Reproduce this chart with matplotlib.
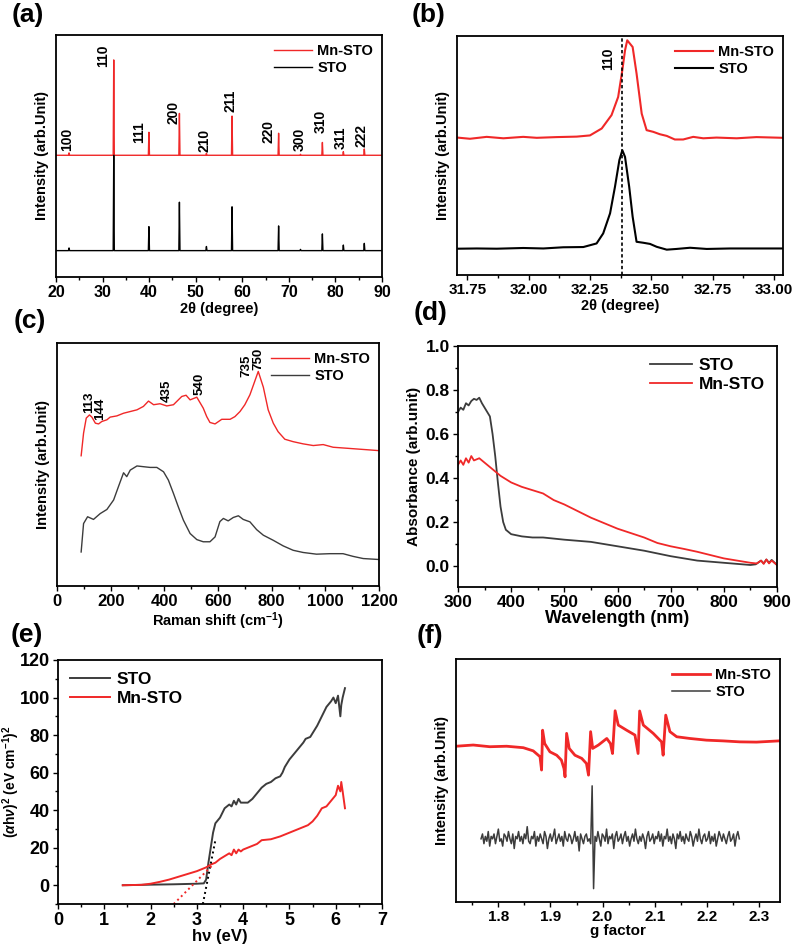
import numpy as np
import matplotlib
matplotlib.use("Agg")
import matplotlib.pyplot as plt
from matplotlib.ticker import MultipleLocator, FormatStrFormatter

plt.rcParams['font.family'] = ['Liberation Sans', 'DejaVu Sans']
plt.rcParams['font.weight'] = 'bold'
plt.rcParams['mathtext.fontset'] = 'custom'
plt.rcParams['mathtext.rm'] = 'Liberation Sans'
plt.rcParams['mathtext.it'] = 'Liberation Sans:italic'
plt.rcParams['mathtext.bf'] = 'Liberation Sans:bold'

RED = '#f02828'
GRAY = '#3c3c3c'

# ---------------- (a) XRD, full range ----------------
xrd_hkl = ['100', '110', '111', '200', '210', '211', '220', '300', '310', '311', '222']
xrd_pos = [22.8, 32.4, 39.95, 46.5, 52.3, 57.8, 67.8, 72.5, 77.2, 81.7, 86.2]
xrd_mn_base = 50.3
xrd_mn_h = [1.0, 39.4, 9.5, 17.3, 0.8, 16.2, 9.1, 0.4, 5.3, 1.5, 2.6]
xrd_sto_base = 10.9
xrd_sto_h = [1.1, 39.4, 9.9, 20.0, 1.7, 18.1, 10.2, 0.5, 6.9, 2.3, 3.0]
xrd_lbl_x = [22.3, 30.2, 37.9, 45.2, 51.8, 57.4, 65.6, 72.4, 76.9, 81.1, 85.6]
xrd_lbl_y = [52.2, 86.9, 55.2, 63.2, 51.8, 68.3, 55.5, 52.2, 59.4, 52.8, 53.9]

# ---------------- (b) XRD zoom on (110) ----------------
b_mn_x = [31.709, 31.761, 31.829, 31.897, 31.978, 32.033, 32.114, 32.196, 32.250, 32.298,
          32.338, 32.365, 32.382, 32.393, 32.402, 32.413, 32.424, 32.440, 32.461, 32.481,
          32.508, 32.535, 32.563, 32.596, 32.630, 32.671, 32.712, 32.766, 32.848, 32.929, 33.038]
b_mn_y = [57.5, 57.0, 57.8, 57.2, 57.8, 57.4, 57.7, 57.9, 58.4, 61.3,
          66.9, 74.5, 85.7, 94.0, 98.2, 96.8, 95.4, 84.3, 67.5, 60.6,
          59.9, 58.9, 58.2, 56.7, 56.7, 57.8, 57.2, 57.5, 57.2, 57.7, 57.4]
b_sto_x = [31.709, 31.789, 31.870, 31.978, 32.060, 32.141, 32.223, 32.277, 32.304, 32.332,
           32.352, 32.370, 32.382, 32.393, 32.410, 32.424, 32.440, 32.467, 32.495, 32.522,
           32.563, 32.603, 32.658, 32.726, 32.821, 32.929, 33.038]
b_sto_y = [11.0, 11.1, 11.0, 11.3, 11.1, 11.6, 11.7, 13.2, 17.4, 25.8,
           36.9, 48.1, 52.2, 49.4, 36.9, 24.4, 13.9, 13.5, 13.0, 11.8,
           10.6, 10.9, 11.4, 10.9, 11.1, 11.1, 11.1]
b_peak = 32.382

# ---------------- (c) Raman ----------------
c_mn_x = [90, 99, 109, 121, 130, 143, 155, 167, 186, 198, 223, 248, 273, 298, 322, 341,
          360, 384, 409, 434, 465, 481, 496, 521, 545, 558, 570, 589, 614, 645, 663, 682,
          700, 719, 731, 750, 769, 787, 806, 824, 849, 880, 917, 955, 992, 1029, 1079,
          1128, 1165, 1200]
c_mn_y = [53.6, 62.9, 69.1, 70.4, 69.5, 67.0, 66.7, 67.7, 68.4, 69.5, 70.0, 71.1, 71.8,
          72.5, 73.9, 76.1, 74.6, 75.0, 74.1, 74.6, 78.0, 78.5, 76.6, 77.7, 73.2, 69.7,
          67.3, 66.7, 68.6, 68.6, 69.7, 71.8, 74.6, 78.7, 82.4, 88.3, 81.8, 72.5, 67.0,
          63.5, 60.4, 59.4, 58.5, 57.8, 58.2, 57.1, 56.7, 56.3, 56.0, 55.7]
c_sto_x = [90, 99, 114, 136, 161, 186, 211, 229, 248, 260, 273, 298, 322, 347, 372, 397,
           415, 434, 452, 471, 496, 521, 545, 570, 589, 607, 620, 638, 657, 676, 694, 719,
           744, 769, 806, 843, 880, 917, 967, 1017, 1066, 1103, 1141, 1200]
c_sto_y = [14.0, 25.7, 28.5, 27.4, 29.8, 31.5, 35.4, 40.9, 46.6, 45.0, 47.7, 49.4, 49.1,
           48.8, 48.8, 47.0, 43.6, 38.1, 32.6, 27.1, 21.6, 19.1, 18.2, 18.2, 20.2, 26.5,
           27.8, 26.8, 28.2, 28.9, 27.4, 26.4, 23.2, 20.9, 18.8, 16.5, 14.7, 13.8, 13.1,
           13.3, 13.3, 12.2, 11.3, 10.9]
c_lbl = ['113', '144', '435', '540', '735', '750']
c_lbl_x = [121, 161, 409, 533, 704, 750]
c_lbl_y = [71.1, 68.4, 75.9, 78.7, 86.0, 89.0]

# ---------------- (d) UV-vis absorbance ----------------
d_sto_x = [300, 305, 310, 315, 320, 325, 330, 335, 340, 345, 350, 355, 360, 365, 370, 375,
           380, 385, 390, 400, 410, 420, 440, 460, 480, 500, 550, 600, 650, 700, 725, 750,
           800, 850, 860, 870, 875, 880, 885, 890, 900]
d_sto_y = [0.70, 0.72, 0.71, 0.74, 0.73, 0.75, 0.76, 0.755, 0.765, 0.74, 0.72, 0.70, 0.68,
           0.60, 0.50, 0.38, 0.27, 0.20, 0.165, 0.145, 0.14, 0.135, 0.13, 0.13, 0.125, 0.12,
           0.11, 0.09, 0.07, 0.045, 0.035, 0.025, 0.015, 0.005, 0.008, 0.025, 0.012, 0.03,
           0.015, 0.028, 0.005]
d_mn_x = [300, 305, 310, 315, 320, 325, 330, 340, 350, 360, 370, 380, 390, 400, 420, 440,
          460, 480, 500, 525, 550, 575, 600, 625, 650, 675, 700, 725, 750, 775, 800, 825,
          850, 862, 870, 875, 880, 885, 890, 895, 900]
d_mn_y = [0.46, 0.48, 0.46, 0.49, 0.47, 0.50, 0.48, 0.49, 0.47, 0.45, 0.43, 0.41, 0.395,
          0.38, 0.36, 0.345, 0.33, 0.30, 0.28, 0.25, 0.22, 0.195, 0.17, 0.15, 0.13, 0.105,
          0.09, 0.078, 0.065, 0.05, 0.035, 0.025, 0.015, 0.012, 0.025, 0.01, 0.03, 0.012,
          0.025, 0.015, 0.005]

# ---------------- (e) Tauc plot ----------------
e_sto_x = [1.4, 2.0, 2.5, 3.0, 3.15, 3.2, 3.25, 3.3, 3.35, 3.4, 3.5, 3.6, 3.65, 3.7, 3.75,
           3.8, 3.85, 3.9, 3.95, 4.0, 4.1, 4.2, 4.3, 4.4, 4.5, 4.6, 4.7, 4.8, 4.85, 4.9,
           5.0, 5.1, 5.2, 5.3, 5.35, 5.45, 5.55, 5.6, 5.7, 5.8, 5.9, 5.95, 6.0, 6.05, 6.1,
           6.12, 6.15, 6.2]
e_sto_y = [0, 0.3, 0.5, 0.8, 1.0, 3, 12, 20, 28, 33, 36, 41, 42, 43, 42, 45, 43, 46, 44,
           44, 44, 46, 49, 52, 54, 55, 57, 58, 60, 63, 67, 70, 73, 76, 78, 79, 83, 85, 90,
           95, 98, 100, 97, 101, 90, 96, 100, 105]
e_mn_x = [1.4, 1.8, 2.0, 2.2, 2.4, 2.6, 2.8, 3.0, 3.2, 3.3, 3.4, 3.5, 3.6, 3.7, 3.75, 3.8,
          3.85, 3.9, 3.95, 4.0, 4.1, 4.2, 4.3, 4.4, 4.6, 4.8, 5.0, 5.2, 5.4, 5.5, 5.6, 5.7,
          5.8, 5.9, 6.0, 6.05, 6.1, 6.12, 6.15, 6.2]
e_mn_y = [0, 0.2, 0.8, 1.8, 3, 4.5, 6, 7.5, 9.5, 11, 12, 14, 15.5, 17, 16, 19, 17, 19, 18,
          19, 20, 21, 22, 24, 24.5, 26, 28, 30, 32, 34, 37, 41, 42, 45, 48, 53, 50, 55, 50,
          41]
e_fit_sto_x = [3.13, 3.40]
e_fit_sto_y = [-10, 24]
e_fit_mn_x = [2.50, 3.35]
e_fit_mn_y = [-10, 11]

# ---------------- (f) EPR ----------------
f_mn_x = [1.719, 1.752, 1.784, 1.816, 1.848, 1.867, 1.880, 1.883, 1.885, 1.889, 1.899,
          1.912, 1.921, 1.926, 1.928, 1.931, 1.936, 1.947, 1.960, 1.969, 1.973, 1.977,
          1.981, 1.992, 2.008, 2.015, 2.019, 2.024, 2.030, 2.046, 2.062, 2.068, 2.071,
          2.078, 2.097, 2.113, 2.116, 2.121, 2.129, 2.142, 2.167, 2.199, 2.231, 2.263,
          2.295, 2.338]
f_mn_y = [64.1, 64.6, 63.9, 64.1, 63.5, 62.2, 59.8, 54.3, 70.7, 65.2, 61.8, 60.4, 58.4,
          54.9, 51.5, 69.4, 63.2, 60.4, 59.1, 57.0, 52.2, 70.1, 63.2, 64.6, 67.3, 65.2,
          61.1, 78.7, 72.8, 70.7, 68.7, 61.1, 78.6, 72.8, 69.4, 65.9, 60.4, 76.9, 70.1,
          68.0, 67.3, 66.6, 66.3, 65.9, 65.8, 66.3]
f_sto_start, f_sto_end = 1.767, 2.262
f_sto_y = [26, 28, 24, 27, 25, 29, 23, 27, 26, 28,
           24, 27, 30, 25, 26, 23, 28, 27, 25, 29,
           26, 24, 28, 22, 27, 26, 29, 25, 27, 24,
           28, 26, 31, 25, 24, 27, 26, 29, 23, 27,
           25, 28, 26, 24, 29, 27, 22, 26, 28, 25,
           27, 30, 24, 26, 28, 25, 27, 23, 29, 26,
           25, 28, 27, 24, 26, 29, 25, 27, 21, 28,
           26, 24, 27, 28, 25, 26, 24, 47.8, 5.5, 27,
           25, 29, 26, 23, 28, 27, 25, 30, 24, 27,
           26, 28, 22, 27, 29, 25, 26, 28, 24, 27,
           29, 25, 27, 23, 26, 28, 25, 30, 26, 24,
           27, 25, 28, 26, 22, 27, 29, 25, 26, 28,
           24, 27, 26, 29, 25, 28, 23, 27, 26, 30,
           25, 27, 24, 28, 26, 22, 28, 26, 29, 25,
           27, 24, 28, 26, 25, 29, 27, 23, 26, 28,
           25, 30, 26, 24, 27, 28, 25, 26, 29, 24,
           27, 25, 28, 23, 26, 29, 27, 25, 28, 26,
           24, 27, 29, 25, 26, 28, 23, 27, 29, 26]

W, H = 792, 949
fig = plt.figure(figsize=(W / 100, H / 100), dpi=100)


def add_ax(l, t, r, b):
    return fig.add_axes([l / W, 1 - b / H, (r - l) / W, (b - t) / H])


def style(ax, fs, yticks=False):
    ax.tick_params(which='both', direction='out', top=False, right=False, labelsize=fs, width=1)
    ax.tick_params(which='major', length=3.5, pad=2.5)
    ax.tick_params(which='minor', length=2)
    for s in ax.spines.values():
        s.set_linewidth(1.3)
    if not yticks:
        ax.set_yticks([])
    for lab in ax.get_xticklabels() + ax.get_yticklabels():
        lab.set_fontweight('bold')


def peaks_line(base, pos, heights, x0, x1, w=0.12):
    xs, ys = [x0], [base]
    for p, h in zip(pos, heights):
        xs += [p - w, p, p + w]
        ys += [base, base + h, base]
    xs.append(x1)
    ys.append(base)
    return xs, ys


def small_legend(ax, fs=10.5):
    ax.legend(loc='upper right', frameon=False, fontsize=fs, handlelength=2.6,
              borderaxespad=0.2, labelspacing=0.2, handletextpad=0.4)


# (a)
ax = add_ax(56, 35, 382, 277)
x, y = peaks_line(xrd_mn_base, xrd_pos, xrd_mn_h, 20, 90)
ax.plot(x, y, color=RED, lw=1.0, label='Mn-STO')
x, y = peaks_line(xrd_sto_base, xrd_pos, xrd_sto_h, 20, 90)
ax.plot(x, y, color='black', lw=1.0, label='STO')
for t, lx, ly in zip(xrd_hkl, xrd_lbl_x, xrd_lbl_y):
    ax.text(lx, ly, t, rotation=90, ha='center', va='bottom', fontsize=10, fontweight='bold')
ax.set_xlim(20, 90)
ax.set_ylim(0, 100)
ax.xaxis.set_major_locator(MultipleLocator(10))
ax.xaxis.set_minor_locator(MultipleLocator(5))
ax.set_xlabel('2θ (degree)', fontsize=10.5, fontweight='bold', labelpad=1)
ax.set_ylabel('Intensity (arb.Unit)', fontsize=10.5, fontweight='bold', labelpad=5)
style(ax, 11.5)
small_legend(ax)

# (b)
ax = add_ax(457, 36, 783, 275)
ax.plot(b_mn_x, b_mn_y, color=RED, lw=1.5, label='Mn-STO')
ax.plot(b_sto_x, b_sto_y, color='black', lw=1.5, label='STO')
ax.axvline(b_peak, color='black', lw=1.2, ls=(0, (2, 1.5)))
ax.text(32.325, 85.7, '110', rotation=90, ha='center', va='bottom', fontsize=10, fontweight='bold')
ax.set_xlim(31.708, 33.037)
ax.set_ylim(0, 100)
ax.xaxis.set_major_locator(MultipleLocator(0.25))
ax.xaxis.set_minor_locator(MultipleLocator(0.125))
ax.xaxis.set_major_formatter(FormatStrFormatter('%.2f'))
ax.set_xlabel('2θ (degree)', fontsize=10.5, fontweight='bold', labelpad=1)
ax.set_ylabel('Intensity (arb.Unit)', fontsize=10.5, fontweight='bold', labelpad=5)
style(ax, 11)
small_legend(ax)

# (c)
ax = add_ax(57, 343, 379, 586)
ax.plot(c_mn_x, c_mn_y, color=RED, lw=1.0, label='Mn-STO')
ax.plot(c_sto_x, c_sto_y, color=GRAY, lw=1.0, label='STO')
for t, lx, ly in zip(c_lbl, c_lbl_x, c_lbl_y):
    ax.text(lx, ly, t, rotation=90, ha='center', va='bottom', fontsize=9.5, fontweight='bold')
ax.set_xlim(0, 1200)
ax.set_ylim(0, 100)
ax.xaxis.set_major_locator(MultipleLocator(200))
ax.xaxis.set_minor_locator(MultipleLocator(100))
ax.set_xlabel(r'Raman shift (cm$^{\mathbf{-1}}$)', fontsize=10.5, fontweight='bold', labelpad=1)
ax.set_ylabel('Intensity (arb.Unit)', fontsize=10.5, fontweight='bold', labelpad=5)
style(ax, 12)
small_legend(ax)

# (d)
ax = add_ax(458, 346, 777, 587)
ax.plot(d_sto_x, d_sto_y, color=GRAY, lw=1.3, label='STO')
ax.plot(d_mn_x, d_mn_y, color=RED, lw=1.3, label='Mn-STO')
ax.set_xlim(300, 900)
ax.set_ylim(-0.095, 1.0)
ax.xaxis.set_major_locator(MultipleLocator(100))
ax.xaxis.set_minor_locator(MultipleLocator(50))
ax.yaxis.set_major_locator(MultipleLocator(0.2))
ax.yaxis.set_minor_locator(MultipleLocator(0.1))
ax.yaxis.set_major_formatter(FormatStrFormatter('%.1f'))
ax.set_xlabel('Wavelength (nm)', fontsize=13, fontweight='bold', labelpad=0)
ax.set_ylabel('Absorbance (arb.unit)', fontsize=11, fontweight='bold', labelpad=3)
style(ax, 12.5, yticks=True)
ax.legend(loc='upper right', frameon=False, fontsize=12.5, handlelength=2.4,
          borderaxespad=0.3, labelspacing=0.2, handletextpad=0.4)

# (e)
ax = add_ax(58, 660, 382, 904)
ax.plot(e_sto_x, e_sto_y, color=GRAY, lw=1.4, label='STO')
ax.plot(e_mn_x, e_mn_y, color=RED, lw=1.4, label='Mn-STO')
ax.plot(e_fit_sto_x, e_fit_sto_y, color='black', lw=1.4, ls=':')
ax.plot(e_fit_mn_x, e_fit_mn_y, color=RED, lw=1.4, ls=':')
ax.set_xlim(0, 7)
ax.set_ylim(-10, 120)
ax.xaxis.set_major_locator(MultipleLocator(1))
ax.xaxis.set_minor_locator(MultipleLocator(0.5))
ax.yaxis.set_major_locator(MultipleLocator(20))
ax.yaxis.set_minor_locator(MultipleLocator(10))
ax.set_xlabel('hν (eV)', fontsize=12, fontweight='bold', labelpad=0)
ax.set_ylabel(r'$(\alpha\mathrm{h}\nu)^2$ (eV cm$^{\mathbf{-1}}$)$^{\mathbf{2}}$',
              fontsize=10, fontweight='bold')
ax.yaxis.set_label_coords(-0.112, 0.5)
style(ax, 13, yticks=True)
ax.legend(loc='upper left', frameon=False, fontsize=12.5, handlelength=2.3,
          borderaxespad=0.3, labelspacing=0.2, handletextpad=0.4)

# (f)
ax = add_ax(456, 659, 780, 902)
ax.plot(f_mn_x, f_mn_y, color=RED, lw=2.0, label='Mn-STO')
ax.plot(np.linspace(f_sto_start, f_sto_end, len(f_sto_y)), f_sto_y, color=GRAY, lw=1.1, label='STO')
ax.set_xlim(1.719, 2.34)
ax.set_ylim(0, 100)
ax.xaxis.set_major_locator(MultipleLocator(0.1))
ax.xaxis.set_minor_locator(MultipleLocator(0.05))
ax.xaxis.set_major_formatter(FormatStrFormatter('%.1f'))
ax.set_xlabel('g factor', fontsize=11, fontweight='bold', labelpad=0)
ax.set_ylabel('Intensity (arb.Unit)', fontsize=10.5, fontweight='bold', labelpad=5)
style(ax, 11)
small_legend(ax)

for lbl, px, py in [('(a)', 12, 3), ('(b)', 412, 3), ('(c)', 14, 309), ('(d)', 414, 301),
                    ('(e)', 11, 623), ('(f)', 417, 624)]:
    fig.text(px / W, 1 - py / H, lbl, fontsize=19, fontweight='bold', ha='left', va='top')

fig.savefig('out.png', dpi=100)
